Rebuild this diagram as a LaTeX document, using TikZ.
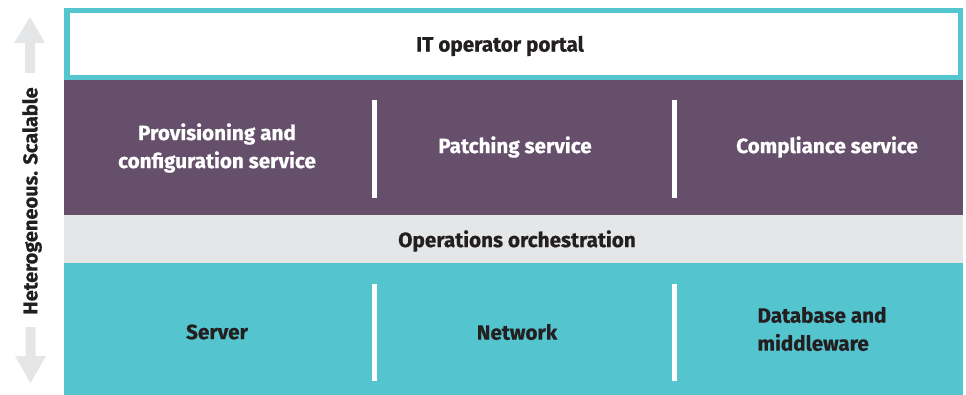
\documentclass[tikz,border=0pt]{standalone}
\usepackage{fontspec}
\setmainfont{Fira Sans}[BoldFeatures={FakeBold=0.6}]
\definecolor{teal}{HTML}{54C4CF}
\definecolor{plum}{HTML}{664F6B}
\definecolor{lgray}{HTML}{E5E6E8}
\definecolor{ink}{HTML}{231F20}
\begin{document}
\begin{tikzpicture}[x=1pt,y=-1pt,
  lbl/.style={font=\fontsize{20.7}{28}\selectfont\bfseries, inner sep=0pt, align=center},
  darklbl/.style={lbl, text=ink},
  lightlbl/.style={lbl, text=white},
  sidelbl/.style={darklbl, font=\fontsize{20}{28}\selectfont\bfseries},
  divider/.style={draw=white, line width=4.5pt},
  arrowshape/.style={fill=lgray, draw=none}]
\useasboundingbox (0,0) rectangle (966,395);
% bands
\fill[teal] (64,8) rectangle (963,80);
\fill[white] (70,13) rectangle (958,75);
\fill[plum] (64,80) rectangle (963,215);
\fill[lgray] (64,215) rectangle (963,263);
\fill[teal] (64,263) rectangle (963,395);
% dividers
\coordinate (d1t) at (374.5,100); \coordinate (d1b) at (374.5,198);
\coordinate (d2t) at (674.5,100); \coordinate (d2b) at (674.5,198);
\coordinate (d3t) at (374.5,284); \coordinate (d3b) at (374.5,381);
\coordinate (d4t) at (674.5,284); \coordinate (d4b) at (674.5,381);
\draw[divider] (d1t) -- (d1b);
\draw[divider] (d2t) -- (d2b);
\draw[divider] (d3t) -- (d3b);
\draw[divider] (d4t) -- (d4b);
% labels
\node[darklbl] (portal) at (500,46) {IT operator portal};
\node[lightlbl] (prov) at (217,148) {Provisioning and\\configuration service};
\node[lightlbl] (patch) at (515,147) {Patching service};
\node[lightlbl] (comp) at (827,147) {Compliance service};
\node[darklbl] (orch) at (517,241) {Operations orchestration};
\node[darklbl] (server) at (217,332) {Server};
\node[darklbl] (network) at (517,332) {Network};
\node[darklbl, align=left] (db) at (822,329) {Database and\\middleware};
% side arrows
\fill[arrowshape] (30,17) -- (45,43) -- (35,43) -- (35,73) -- (25,73) -- (25,43) -- (14,43) -- cycle;
\fill[arrowshape] (30.5,383) -- (46,356) -- (35.5,356) -- (35.5,327) -- (25.5,327) -- (25.5,356) -- (15,356) -- cycle;
\node[sidelbl, rotate=90] (side) at (32,201) {Heterogeneous. Scalable};
\end{tikzpicture}
\end{document}
